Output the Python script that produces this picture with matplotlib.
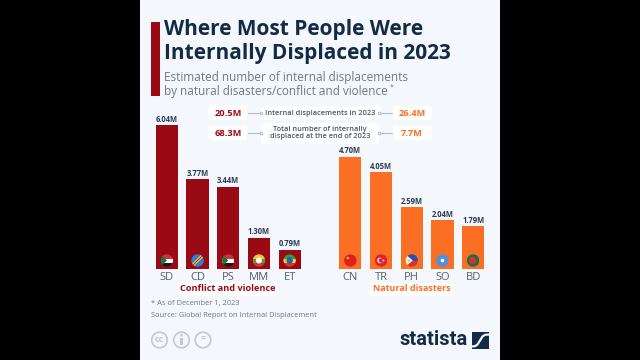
import matplotlib
matplotlib.use('Agg')
import matplotlib.pyplot as plt
from matplotlib.patches import Rectangle, Circle, FancyBboxPatch, Polygon

plt.rcParams['font.family'] = ['Open Sans', 'DejaVu Sans']

# donnees
conflict_codes = ['SD', 'CD', 'PS', 'MM', 'ET']
conflict_values = [6.04, 3.77, 3.44, 1.30, 0.79]
disaster_codes = ['CN', 'TR', 'PH', 'SO', 'BD']
disaster_values = [4.70, 4.05, 2.59, 2.04, 1.79]
title_lines = ['Where Most People Were', 'Internally Displaced in 2023']
subtitle_lines = ['Estimated number of internal displacements',
                  'by natural disasters/conflict and violence']

RED = '#9a0a14'
ORANGE = '#fb6f24'
NAVY = '#132b47'
GREY = '#6d7a8a'
BG = '#f4f7fb'

fig = plt.figure(figsize=(6.4, 3.6), dpi=100, facecolor='black')

# calque plein cadre en pixels pour le texte et le decor
bg = fig.add_axes([0, 0, 1, 1])
bg.set_xlim(0, 640)
bg.set_ylim(360, 0)
bg.axis('off')
bg.add_patch(Rectangle((140, 0), 360, 360, color=BG, lw=0))
bg.add_patch(Rectangle((151, 22), 8.5, 73.5, color=RED, lw=0))

for y, s in zip([30, 53], title_lines):
    bg.text(164.5, y, s, fontsize=15, fontweight='bold', color=NAVY, va='center')
for y, s in zip([77, 91.5], subtitle_lines):
    bg.text(164.5, y, s, fontsize=8.5, color=GREY, va='center')
bg.text(390, 87.5, '*', fontsize=5, color=GREY, va='center')


def pill(x0, x1, y0, y1, ax=bg):
    ax.add_patch(FancyBboxPatch((x0 + 3, y0 + 3), x1 - x0 - 6, y1 - y0 - 6,
                                boxstyle='round,pad=3', fc='white', ec='none', zorder=2))


# encart des totaux
pill(208, 247, 105.5, 120)
pill(393, 432, 105.5, 120)
pill(208, 247, 126, 140)
pill(393, 432, 126, 140)
pill(261, 380, 106, 120)
pill(261, 379, 123, 144)
for y in [113, 133]:
    bg.plot([248, 261], [y, y], color='#b5bec9', lw=0.8, zorder=1)
    bg.plot([379, 392], [y, y], color='#b5bec9', lw=0.8, zorder=1)
    bg.plot([261, 379], [y, y], ls='', marker='o', ms=2, mfc='white', mec='#9aa5b2', mew=0.5, zorder=3)
bg.text(228, 113, '20.5M', fontsize=6.7, fontweight='bold', color=RED, ha='center', va='center', zorder=4)
bg.text(228, 133, '68.3M', fontsize=6.7, fontweight='bold', color=RED, ha='center', va='center', zorder=4)
bg.text(412, 113, '26.4M', fontsize=6.7, fontweight='bold', color=ORANGE, ha='center', va='center', zorder=4)
bg.text(412, 133, '7.7M', fontsize=6.7, fontweight='bold', color=ORANGE, ha='center', va='center', zorder=4)
bg.text(320, 113.3, 'Internal displacements in 2023', fontsize=5.3, fontweight='semibold', color='#4a5666', ha='center', va='center', zorder=4)
bg.text(320, 133, 'Total number of internally\ndisplaced at the end of 2023', fontsize=5.3, fontweight='semibold', color='#4a5666', ha='center', va='center', linespacing=1.15, zorder=4)

# etiquettes de groupes
pill(178, 277, 282, 296)
pill(369, 454, 283, 296)
bg.text(228, 288.5, 'Conflict and violence', fontsize=6.6, fontweight='bold', color=RED, ha='center', va='center', zorder=4)
bg.text(412, 288.5, 'Natural disasters', fontsize=6.5, fontweight='bold', color=ORANGE, ha='center', va='center', zorder=4)

# notes
bg.text(151, 304, '* As of December 1, 2023', fontsize=5.4, color=GREY, va='center')
bg.text(151, 315.5, 'Source: Global Report on Internal Displacement', fontsize=5.4, color=GREY, va='center')
for x, s in zip([159.5, 181.5, 203], ['cc', '', '=']):
    bg.add_patch(Circle((x, 340), 7.8, fc='none', ec='#c2c9d2', lw=1.2))
    bg.text(x, 339.5, s, fontsize=6.5, fontweight='bold', color='#c2c9d2', ha='center', va='center')
bg.add_patch(Circle((181.5, 335.5), 1.3, color='#c2c9d2', lw=0))
bg.add_patch(Rectangle((180, 338), 3, 7, color='#c2c9d2', lw=0))

# logo
bg.text(399, 339.5, 'statista', fontsize=14.5, fontweight='bold', color=NAVY, va='center',
        family=['Roboto', 'DejaVu Sans'])
bg.add_patch(Rectangle((471.5, 331.5), 17.5, 17.5, color=NAVY, lw=0))
bg.plot([471.5, 475, 477.5, 480, 482.5, 485, 489], [346.5, 346.2, 344.5, 340.5, 336.5, 334.8, 334.5],
        color=BG, lw=1.6, solid_capstyle='butt')

# barres : 23.76 px par million, ligne de base a y=268.5
PX_PER_M = 23.76
BASE = 268.5
TOP = 100


def bar_panel(x0, x1, codes, values, color):
    ax = fig.add_axes([x0 / 640, 1 - BASE / 360, (x1 - x0) / 640, (BASE - TOP) / 360])
    ax.patch.set_alpha(0)
    pos = list(range(len(codes)))
    ax.bar(pos, values, width=0.725, color=color)
    ax.set_xlim(-0.5, len(codes) - 0.5)
    ax.set_ylim(0, (BASE - TOP) / PX_PER_M)
    ax.set_xticks(pos, codes)
    ax.set_yticks([])
    ax.tick_params(axis='x', length=0, pad=2.2, labelsize=8, labelcolor='#55616f')
    for sp in ax.spines.values():
        sp.set_visible(False)
    for p, v in zip(pos, values):
        ax.annotate('%.2fM' % v, (p, v), xytext=(0, 1), textcoords='offset points',
                    ha='center', va='bottom', fontsize=5.5, fontweight='bold', color='#2c3e55')
    return ax


ax1 = bar_panel(151.5, 305, conflict_codes, conflict_values, RED)
ax2 = bar_panel(335, 488.5, disaster_codes, disaster_values, ORANGE)


def flag(code, cx, cy=260.5, r=6.2):
    # petits drapeaux ronds, dessines en pixels sur un calque dedie
    clip = Circle((cx, cy), r, fc='none', ec='none')
    top.add_patch(clip)
    def band(y0, y1, c, x0=-r, x1=r):
        p = Rectangle((cx + x0, cy + y0), x1 - x0, y1 - y0, color=c, lw=0)
        top.add_patch(p)
        p.set_clip_path(clip)
    def poly(pts, c):
        p = Polygon([(cx + a, cy + b) for a, b in pts], color=c, lw=0)
        top.add_patch(p)
        p.set_clip_path(clip)
    def dot(dx, dy, rr, c):
        p = Circle((cx + dx, cy + dy), rr, color=c, lw=0)
        top.add_patch(p)
        p.set_clip_path(clip)
    if code in ('SD', 'PS'):
        band(-r, -2, '#d0303a')
        band(-2, 2, 'white')
        band(2, r, '#1a1a1a')
        poly([(-r, -r), (0, 0), (-r, r)], '#0f7a3c')
    elif code == 'CD':
        band(-r, r, '#2a7fd6')
        poly([(-r, 4), (4, -r), (r, -4), (-4, r)], '#f4d02a')
        poly([(-r, 5.5), (5.5, -r), (r, -5.5), (-5.5, r)], '#c8202c')
    elif code == 'MM':
        band(-r, -2, '#f4c430')
        band(-2, 2, '#3fa34d')
        band(2, r, '#d8342c')
        dot(0, 0, 3, 'white')
    elif code == 'ET':
        band(-r, -2, '#2f9a46')
        band(-2, 2, '#f0d02c')
        band(2, r, '#d8342c')
        dot(0, 0, 3.2, '#2a5fb0')
    elif code == 'CN':
        band(-r, r, '#e0201c')
        dot(-2.5, -2.5, 1.2, '#f6d32c')
    elif code == 'TR':
        band(-r, r, '#e1222c')
        dot(-1, 0, 2.8, 'white')
        dot(-0.2, 0, 2.2, '#e1222c')
        dot(2.5, 0, 0.8, 'white')
    elif code == 'PH':
        band(-r, 0, '#2a4fb0')
        band(0, r, '#d8342c')
        poly([(-r, -r), (1, 0), (-r, r)], '#f6f2e6')
        dot(-3, 0, 1.2, '#f2c230')
    elif code == 'SO':
        band(-r, r, '#4d92de')
        dot(0, 0, 1.8, 'white')
    elif code == 'BD':
        band(-r, r, '#12704a')
        dot(-0.5, 0, 3.6, '#d8342c')


top = fig.add_axes([0, 0, 1, 1], zorder=5)
top.set_xlim(0, 640)
top.set_ylim(360, 0)
top.axis('off')
for ax, codes in [(ax1, conflict_codes), (ax2, disaster_codes)]:
    for i, c in enumerate(codes):
        # centre de chaque barre converti via les echelles de l'axe
        xpix = ax.transData.transform((i, 0))[0]
        flag(c, xpix)

fig.savefig('out.png', dpi=100, facecolor=fig.get_facecolor())
